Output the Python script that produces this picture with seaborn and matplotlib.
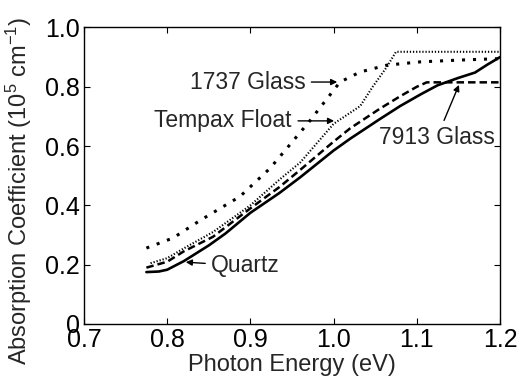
import pandas as pd
import seaborn as sns
import matplotlib
matplotlib.use('Agg')
import matplotlib.pyplot as plt

# --- dados ---
quartz_x = [0.775, 0.79, 0.80, 0.82, 0.85, 0.87, 0.90, 0.935, 0.96, 1.00, 1.02, 1.055, 1.08, 1.105, 1.125, 1.15, 1.17, 1.185, 1.20]
quartz_y = [0.175, 0.177, 0.183, 0.212, 0.265, 0.305, 0.375, 0.442, 0.495, 0.585, 0.625, 0.690, 0.735, 0.775, 0.805, 0.830, 0.848, 0.875, 0.900]

g7913_x = [0.775, 0.80, 0.82, 0.855, 0.90, 0.935, 0.96, 1.00, 1.02, 1.055, 1.08, 1.10, 1.112, 1.20]
g7913_y = [0.190, 0.210, 0.245, 0.294, 0.390, 0.462, 0.520, 0.615, 0.660, 0.725, 0.768, 0.800, 0.815, 0.815]

tempax_x = [0.780, 0.80, 0.82, 0.855, 0.90, 0.935, 0.96, 1.00, 1.032, 1.047, 1.064, 1.075, 1.20]
tempax_y = [0.205, 0.222, 0.255, 0.310, 0.400, 0.487, 0.545, 0.675, 0.735, 0.800, 0.867, 0.918, 0.918]

g1737_x = [0.775, 0.807, 0.84, 0.8875, 0.9236, 0.9356, 0.97, 1.0077, 1.032, 1.064, 1.104, 1.15, 1.20]
g1737_y = [0.256, 0.290, 0.350, 0.430, 0.525, 0.565, 0.680, 0.816, 0.850, 0.873, 0.884, 0.890, 0.895]

x_ticks = [0.7, 0.8, 0.9, 1.0, 1.1, 1.2]
x_labels = ['0.7', '0.8', '0.9', '1.0', '1.1', '1.2']
y_ticks = [0, 0.2, 0.4, 0.6, 0.8, 1.0]
y_labels = ['0', '0.2', '0.4', '0.6', '0.8', '1.0']

sns.set_theme(style="ticks")
plt.rcParams['font.family'] = ['Liberation Sans', 'DejaVu Sans']
plt.rcParams['mathtext.default'] = 'regular'

fig = plt.figure(figsize=(5.2, 3.91), dpi=100)
ax = fig.add_axes([0.1615, 0.1714, 0.80, 0.7583])

estilos = [
    (quartz_x, quartz_y, '-', 1.9),
    (g7913_x, g7913_y, (0, (3.0, 1.6)), 1.8),
    (tempax_x, tempax_y, (0, (0.6, 0.9)), 1.5),
    (g1737_x, g1737_y, (0, (1.0, 2.6)), 2.2),
]
for xs, ys, ls, lw in estilos:
    sns.lineplot(x=xs, y=ys, ax=ax, color='black', linestyle=ls, linewidth=lw,
                 sort=False, estimator=None)

ax.set_xlim(0.7, 1.2)
ax.set_ylim(0, 1.0)
ax.set_xticks(x_ticks)
ax.set_xticklabels(x_labels)
ax.set_yticks(y_ticks)
ax.set_yticklabels(y_labels)
ax.tick_params(direction='in', top=True, right=True, length=4, width=0.8,
               labelsize=18, colors='black', pad=3)
for s in ax.spines.values():
    s.set_linewidth(1.0)
    s.set_color('black')

ax.set_xlabel('Photon Energy (eV)', fontsize=17, labelpad=1)
ax.set_ylabel('Absorption Coefficient (10$^5$ cm$^{-1}$)', fontsize=17)
ax.yaxis.set_label_coords(-0.12, 0.45)

# --- anotações ---
seta = dict(arrowstyle='-|>', color='black', lw=1.0, mutation_scale=9)
ax.annotate('1737 Glass', xy=(1.0077, 0.816), xytext=(0.966, 0.816),
            ha='right', va='center', fontsize=16.5, arrowprops=seta)
ax.annotate('Tempax Float', xy=(1.004, 0.685), xytext=(0.95, 0.685),
            ha='right', va='center', fontsize=16.5, arrowprops=seta)
ax.annotate('7913 Glass', xy=(1.152, 0.815), xytext=(1.124, 0.628),
            ha='center', va='center', fontsize=16.5, arrowprops=seta)
ax.annotate('Quartz', xy=(0.819, 0.209), xytext=(0.853, 0.196),
            ha='left', va='center', fontsize=16.5, arrowprops=seta)

plt.savefig('out.png', dpi=100)
